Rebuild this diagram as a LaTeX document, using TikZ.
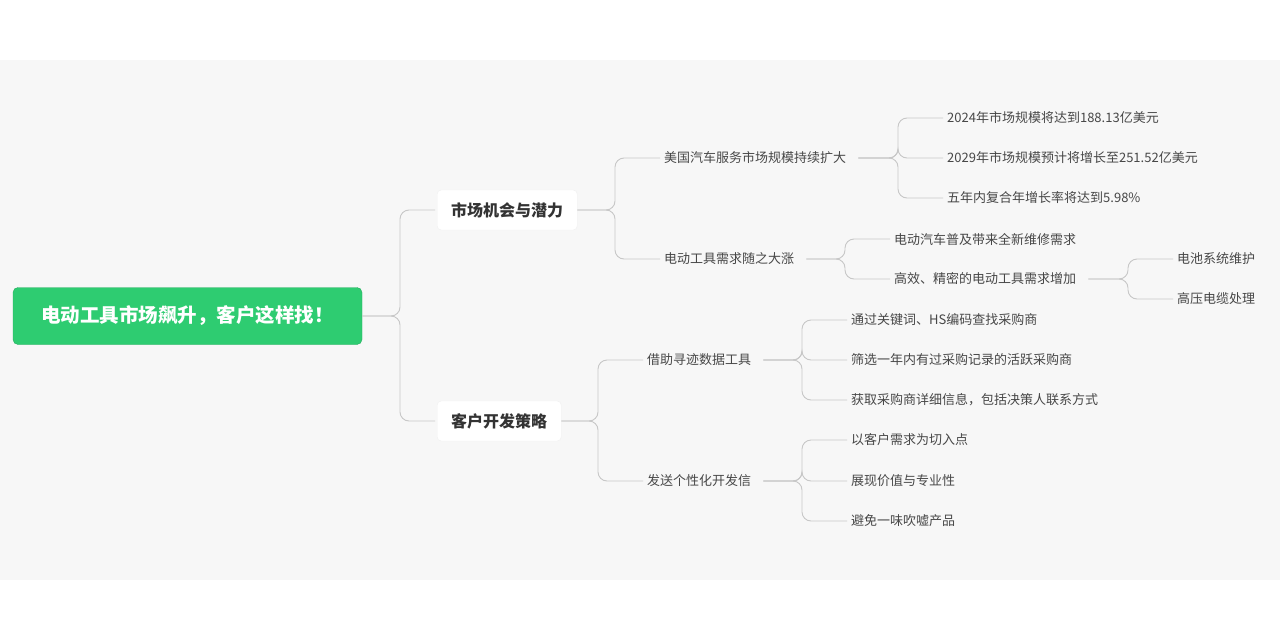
\documentclass[tikz,border=0pt]{standalone}
\usepackage{fontspec}
\setmainfont{Noto Sans CJK SC}
\begin{document}
\begin{tikzpicture}[x=1pt,y=-1pt,
  lnk/.style={draw=black!22,line width=0.9pt,rounded corners=9pt},
  leaf/.style={anchor=west,inner sep=2pt,font=\fontsize{13}{15}\selectfont,text=black!72},
  lvone/.style={draw=black!6,fill=white,rounded corners=4pt,minimum height=40pt,inner xsep=14pt,font=\fontsize{16}{18}\selectfont\bfseries,text=black!80,anchor=west},
  rootn/.style={rounded corners=5pt,minimum width=349pt,minimum height=57pt,font=\fontsize{19.5}{22}\selectfont\bfseries,text=white}]
\useasboundingbox (0,0) rectangle (1280,640);
\fill[white] (0,0) rectangle (1280,640);
\fill[black!3] (0,60) rectangle (1280,580);
\definecolor{rg}{HTML}{2ECC71}
\node[rootn,fill=rg,draw=rg!85!black] (root) at (187.5,316) {电动工具市场飙升，客户这样找！};
\node[lvone] (m1) at (437,210) {市场机会与潜力};
\node[lvone] (m2) at (437,421) {客户开发策略};
\node[leaf] (a) at (662,158) {美国汽车服务市场规模持续扩大};
\node[leaf] (b) at (662,259) {电动工具需求随之大涨};
\node[leaf] (a1) at (945,118) {2024年市场规模将达到188.13亿美元};
\node[leaf] (a2) at (945,158) {2029年市场规模预计将增长至251.52亿美元};
\node[leaf] (a3) at (945,198) {五年内复合年增长率将达到5.98\%};
\node[leaf] (b1) at (892,239) {电动汽车普及带来全新维修需求};
\node[leaf] (b2) at (892,279) {高效、精密的电动工具需求增加};
\node[leaf] (c1) at (1175,259) {电池系统维护};
\node[leaf] (c2) at (1175,299) {高压电缆处理};
\node[leaf] (d) at (645,360) {借助寻迹数据工具};
\node[leaf] (e) at (645,481) {发送个性化开发信};
\node[leaf] (d1) at (849,320) {通过关键词、HS编码查找采购商};
\node[leaf] (d2) at (849,360) {筛选一年内有过采购记录的活跃采购商};
\node[leaf] (d3) at (849,400) {获取采购商详细信息，包括决策人联系方式};
\node[leaf] (e1) at (849,440) {以客户需求为切入点};
\node[leaf] (e2) at (849,481) {展现价值与专业性};
\node[leaf] (e3) at (849,521) {避免一味吹嘘产品};
\foreach \p/\s/\x/\c in {root/0/400/m1,root/0/400/m2,m1/0/615/a,m1/0/615/b,a/10/898/a1,a/10/898/a2,a/10/898/a3,b/10/845/b1,b/10/845/b2,b2/10/1128/c1,b2/10/1128/c2,m2/0/598/d,m2/0/598/e,d/10/802/d1,d/10/802/d2,d/10/802/d3,e/10/802/e1,e/10/802/e2,e/10/802/e3}
  \draw[lnk] ([xshift=\s pt]\p.east) -- (\x,0 |- \p.east) |- ([xshift=-2pt]\c.west);
\end{tikzpicture}
\end{document}
